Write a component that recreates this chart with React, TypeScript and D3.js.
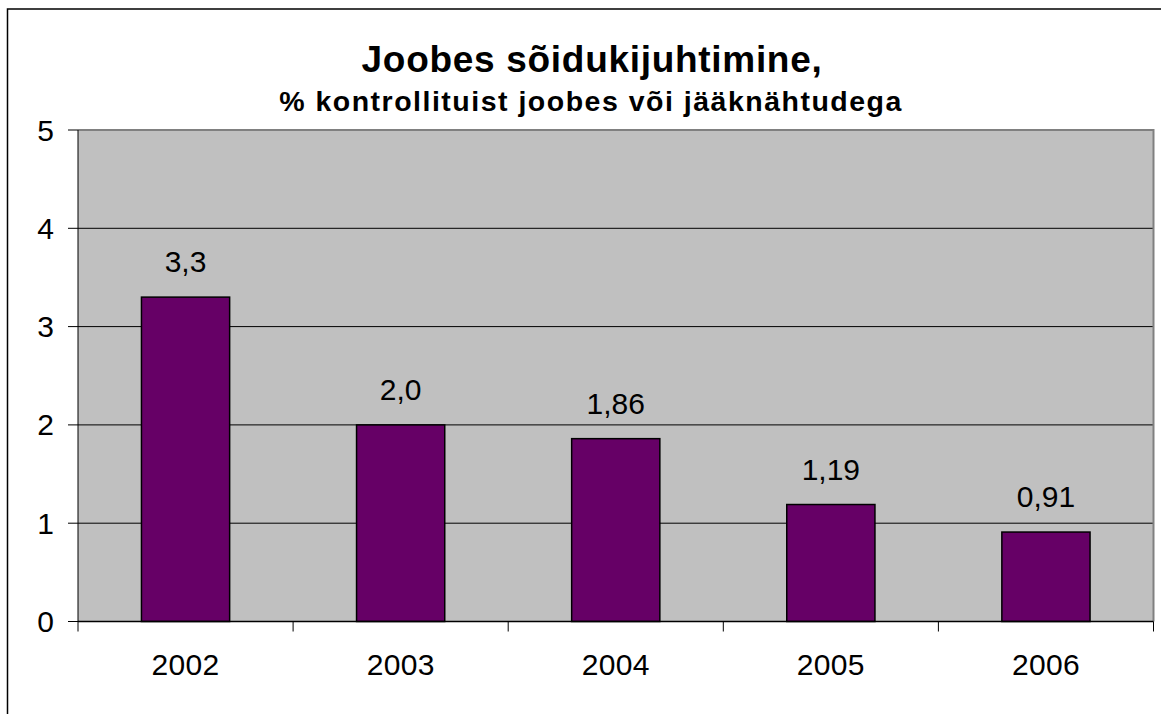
import React from "react";
import * as d3 from "d3";

const categories = ["2002", "2003", "2004", "2005", "2006"];
const values = [3.3, 2.0, 1.86, 1.19, 0.91];
const valueLabels = ["3,3", "2,0", "1,86", "1,19", "0,91"];
const yTicks = [0, 1, 2, 3, 4, 5];
const titleText = "Joobes sõidukijuhtimine,";
const subtitleText = "% kontrollituist joobes või jääknähtudega";

const W = 1161;
const H = 714;
const plot = { left: 78, right: 1153.5, top: 130, bottom: 621.5 };
const FONT = "'Liberation Sans', Arial, sans-serif";

export default function App() {
  const x = d3
    .scaleBand<string>()
    .domain(categories)
    .range([plot.left, plot.right])
    .paddingInner(0.59)
    .paddingOuter(0.295);
  const xOuter = d3.scaleBand<string>().domain(categories).range([plot.left, plot.right]);
  const y = d3.scaleLinear().domain([0, 5]).range([plot.bottom, plot.top]);
  const boundaries = categories.map((c) => xOuter(c) as number).concat([plot.right]);

  return (
    <svg
      width={W}
      height={H}
      style={{ position: "absolute", left: 0, top: 0, background: "#fff" }}
    >
      <rect x={0} y={0} width={W} height={H} fill="#fff" />
      {/* outer chart border */}
      <rect x={7.5} y={9} width={W + 20} height={H + 20} fill="none" stroke="#000" strokeWidth={1.5} />

      {/* title */}
      <text
        x={592}
        y={72}
        textAnchor="middle"
        fontFamily={FONT}
        fontWeight="bold"
        fontSize={37}
        letterSpacing={0.7}
        fill="#000"
      >
        {titleText}
      </text>
      <text
        x={591}
        y={111}
        textAnchor="middle"
        fontFamily={FONT}
        fontWeight="bold"
        fontSize={28.5}
        letterSpacing={1.5}
        fill="#000"
      >
        {subtitleText}
      </text>

      {/* plot background */}
      <rect
        x={plot.left}
        y={plot.top}
        width={plot.right - plot.left}
        height={plot.bottom - plot.top}
        fill="#C0C0C0"
      />
      {/* gridlines */}
      {yTicks
        .filter((t) => t > 0 && t < 5)
        .map((t) => (
          <line
            key={"g" + t}
            x1={plot.left}
            x2={plot.right}
            y1={y(t)}
            y2={y(t)}
            stroke="#000"
            strokeWidth={1}
          />
        ))}
      {/* plot border top/right */}
      <path
        d={`M${plot.left},${plot.top}H${plot.right}V${plot.bottom}`}
        fill="none"
        stroke="#808080"
        strokeWidth={2}
      />

      {/* bars */}
      {categories.map((c, i) => (
        <rect
          key={"b" + c}
          x={x(c)}
          y={y(values[i])}
          width={x.bandwidth()}
          height={y(0) - y(values[i])}
          fill="#660066"
          stroke="#000"
          strokeWidth={1.5}
        />
      ))}

      {/* value labels */}
      {categories.map((c, i) => (
        <text
          key={"v" + c}
          x={(x(c) as number) + x.bandwidth() / 2}
          y={y(values[i]) - 25}
          textAnchor="middle"
          fontFamily={FONT}
          fontSize={30}
          fill="#000"
        >
          {valueLabels[i]}
        </text>
      ))}

      {/* y axis */}
      <line x1={plot.left} x2={plot.left} y1={plot.top} y2={plot.bottom} stroke="#000" strokeWidth={1} />
      {yTicks.map((t) => (
        <g key={"y" + t}>
          <line x1={plot.left - 10} x2={plot.left} y1={y(t)} y2={y(t)} stroke="#000" strokeWidth={1} />
          <text
            x={54}
            y={y(t) + 10.5}
            textAnchor="end"
            fontFamily={FONT}
            fontSize={30}
            fill="#000"
          >
            {t}
          </text>
        </g>
      ))}

      {/* x axis */}
      <line x1={plot.left} x2={plot.right} y1={plot.bottom} y2={plot.bottom} stroke="#000" strokeWidth={1.5} />
      {boundaries.map((bx, i) => (
        <line key={"xt" + i} x1={bx} x2={bx} y1={plot.bottom} y2={plot.bottom + 10} stroke="#000" strokeWidth={1} />
      ))}
      {categories.map((c) => (
        <text
          key={"x" + c}
          x={(xOuter(c) as number) + xOuter.bandwidth() / 2}
          y={675}
          textAnchor="middle"
          fontFamily={FONT}
          fontSize={30}
          letterSpacing={0.3}
          fill="#000"
        >
          {c}
        </text>
      ))}
    </svg>
  );
}
